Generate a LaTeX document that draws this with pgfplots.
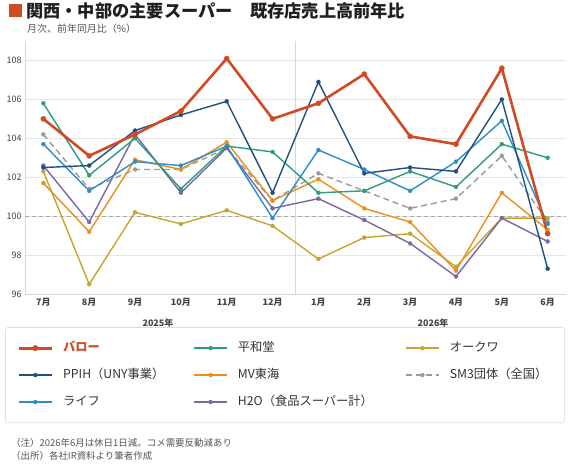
\documentclass[border=0pt]{standalone}
\usepackage{pgfplots}
\pgfplotsset{compat=1.18}
\usepackage{fontspec}
\setmainfont{Noto Sans CJK JP}
\definecolor{barro}{HTML}{D04A23}
\definecolor{ppih}{HTML}{1F5081}
\definecolor{heiwado}{HTML}{2F9C7E}
\definecolor{okuwa}{HTML}{C8A42E}
\definecolor{mv}{HTML}{EB8F1C}
\definecolor{sm}{HTML}{9A9A9A}
\definecolor{life}{HTML}{2C8DC7}
\definecolor{hto}{HTML}{7A67A8}
\definecolor{gridc}{HTML}{E6E6E6}
\definecolor{axc}{HTML}{D6D6D6}
\definecolor{tickc}{HTML}{444444}
\definecolor{subc}{HTML}{555555}
\definecolor{legbd}{HTML}{DDDDDD}
\definecolor{legtxt}{HTML}{333333}

\pgfplotstableread{
x barro ppih heiwado mv okuwa sm life hto
0 105.0 102.5 105.8 101.7 102.3 104.2 103.7 102.6
1 103.1 102.6 102.1 99.2 96.5 101.4 101.3 99.7
2 104.2 104.4 104.0 102.9 100.2 102.4 102.8 104.2
3 105.4 105.2 101.4 102.4 99.6 102.4 102.6 101.2
4 108.1 105.9 103.6 103.8 100.3 103.5 103.6 103.5
5 105.0 101.2 103.3 100.8 99.5 100.8 99.9 100.4
6 105.8 106.9 101.2 101.9 97.8 102.2 103.4 100.9
7 107.3 102.2 101.3 100.4 98.9 101.3 102.4 99.8
8 104.1 102.5 102.3 99.7 99.1 100.4 101.3 98.6
9 103.7 102.3 101.5 97.2 97.4 100.9 102.8 96.9
10 107.6 106.0 103.7 101.2 99.9 103.1 104.9 99.9
11 99.1 97.3 103.0 99.3 99.9 99.7 99.6 98.7
}\datatable

\pgfplotsset{
  ser/.style={line width=1.4bp, mark=*, mark size=2bp, mark options={solid, line width=0.3bp}},
}

\begin{document}
\begin{tikzpicture}
\useasboundingbox (0bp,0bp) rectangle (570bp,-467bp);
\fill[white] (0bp,0bp) rectangle (570bp,-467bp);
\fill[barro] (9bp,-4bp) rectangle (22bp,-17bp);
\node[anchor=west,inner sep=0pt,font=\fontsize{17.3}{20}\selectfont\bfseries,text=black!88] at (26bp,-11bp) {関西・中部の主要スーパー　既存店売上高前年比};
\node[anchor=west,inner sep=0pt,font=\fontsize{10}{12}\selectfont,text=subc] at (27bp,-29bp) {月次、前年同月比（\%）};

\begin{axis}[
  at={(25bp,-294bp)}, anchor=south west,
  scale only axis, width=541bp, height=253bp,
  xmin=-0.4, xmax=11.4, ymin=96, ymax=109,
  axis lines=left, axis line style={-, draw=axc, line width=0.8bp},
  ytick={96,98,...,108},
  xtick={0,...,11},
  xticklabels={7月,8月,9月,10月,11月,12月,1月,2月,3月,4月,5月,6月},
  major tick length=0pt,
  ymajorgrids, grid style={draw=gridc, line width=0.8bp},
  /pgf/number format/assume math mode=true,
  yticklabel style={font=\fontsize{9}{11}\selectfont, text=tickc},
  xticklabel style={font=\fontsize{9}{11}\selectfont\bfseries, text=tickc, yshift=-1bp},
  clip=false,
  legend columns=3,
  legend cell align=left,
  legend style={
    at={(axis description cs:-0.037,-0.1304)}, anchor=north west,
    draw=legbd, line width=0.8bp, rounded corners=3bp,
    inner xsep=12bp, inner ysep=15bp,
    nodes={inner sep=0pt, text height=9bp, text depth=2.5bp},
    row sep=15.45bp, column sep=0pt,
    font=\fontsize{12.3}{14}\selectfont, text=legtxt,
  },
  legend image code/.code={
    \draw[mark repeat=2,mark phase=2,#1] plot coordinates {(0bp,0bp) (16.5bp,0bp) (33bp,0bp)};
    \path (43bp,0bp);
  },
]
\draw[axc, line width=0.8bp] (axis cs:5.5,96) -- (axis cs:5.5,109);
\draw[sm!85, line width=0.9bp, dash pattern=on 4bp off 3bp] (axis cs:-0.4,100) -- (axis cs:11.4,100);

\addplot[ser, sm, dash pattern=on 6bp off 4bp, forget plot] table[x=x,y=sm] {\datatable};
\addplot[ser, okuwa, forget plot] table[x=x,y=okuwa] {\datatable};
\addplot[ser, hto, forget plot] table[x=x,y=hto] {\datatable};
\addplot[ser, mv, forget plot] table[x=x,y=mv] {\datatable};
\addplot[ser, heiwado, forget plot] table[x=x,y=heiwado] {\datatable};
\addplot[ser, life, forget plot] table[x=x,y=life] {\datatable};
\addplot[ser, ppih, forget plot] table[x=x,y=ppih] {\datatable};
\addplot[ser, barro, line width=2.6bp, mark size=2.6bp, forget plot] table[x=x,y=barro] {\datatable};

\addlegendimage{ser, barro, line width=2.8bp, mark size=2.8bp}
\addlegendentry{\makebox[130bp][l]{\textcolor{barro}{\bfseries バロー}}}
\addlegendimage{ser, heiwado, line width=1.8bp}
\addlegendentry{\makebox[167bp][l]{平和堂}}
\addlegendimage{ser, okuwa, line width=1.8bp}
\addlegendentry{\makebox[103bp][l]{オークワ}}
\addlegendimage{ser, ppih, line width=1.8bp}
\addlegendentry{\makebox[130bp][l]{PPIH（UNY事業）}}
\addlegendimage{ser, mv, line width=1.8bp}
\addlegendentry{\makebox[167bp][l]{MV東海}}
\addlegendimage{ser, sm, line width=1.8bp, dash pattern=on 6bp off 4bp}
\addlegendentry{\makebox[103bp][l]{SM3団体（全国）}}
\addlegendimage{ser, life, line width=1.8bp}
\addlegendentry{\makebox[130bp][l]{ライフ}}
\addlegendimage{ser, hto, line width=1.8bp}
\addlegendentry{\makebox[167bp][l]{H2O（食品スーパー計）}}

\node[font=\fontsize{9}{11}\selectfont\bfseries, text=tickc] at (axis cs:2.5,96) [yshift=-29.5bp] {2025年};
\node[font=\fontsize{9}{11}\selectfont\bfseries, text=tickc] at (axis cs:8.5,96) [yshift=-29.5bp] {2026年};
\end{axis}

\node[anchor=west,inner sep=0pt,font=\fontsize{9.5}{11}\selectfont,text=subc] at (11bp,-443bp) {（注）2026年6月は休日1日減。コメ需要反動減あり};
\node[anchor=west,inner sep=0pt,font=\fontsize{9.5}{11}\selectfont,text=subc] at (11bp,-456bp) {（出所）各社IR資料より筆者作成};
\end{tikzpicture}
\end{document}
